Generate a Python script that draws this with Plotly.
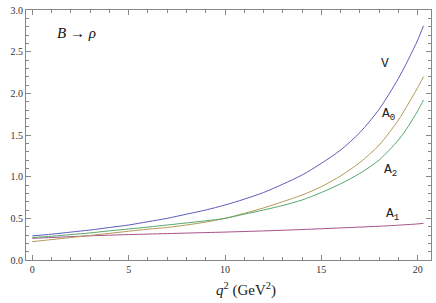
import plotly.graph_objects as go

q2 = [0, 1, 2, 3, 4, 5, 6, 7, 8, 9, 10, 11, 12, 13, 14, 15, 16, 17, 18, 19, 19.5, 20, 20.3]
V  = [0.29, 0.31, 0.335, 0.36, 0.39, 0.42, 0.46, 0.50, 0.55, 0.60, 0.66, 0.73, 0.81, 0.91, 1.02,
      1.16, 1.32, 1.53, 1.81, 2.18, 2.40, 2.64, 2.81]
A0 = [0.22, 0.245, 0.27, 0.295, 0.32, 0.345, 0.37, 0.39, 0.42, 0.455, 0.50, 0.56, 0.625, 0.70, 0.78,
      0.88, 1.01, 1.17, 1.38, 1.68, 1.87, 2.07, 2.20]
A2 = [0.27, 0.285, 0.305, 0.325, 0.35, 0.372, 0.395, 0.42, 0.445, 0.47, 0.50, 0.55, 0.60, 0.655, 0.72,
      0.81, 0.915, 1.04, 1.20, 1.44, 1.60, 1.79, 1.92]
A1 = [0.26, 0.27, 0.28, 0.29, 0.298, 0.305, 0.311, 0.317, 0.323, 0.329, 0.335, 0.342, 0.349, 0.357, 0.366,
      0.375, 0.385, 0.395, 0.405, 0.418, 0.425, 0.433, 0.44]

series = [
    ("V", V, "#5c5cbc"),
    ("A1", A1, "#a8508a"),
    ("A0", A0, "#b39a58"),
    ("A2", A2, "#55a86a"),
]

SERIF = "Liberation Serif"
MONO = "Liberation Mono"

fig = go.Figure()
for name, ys, col in series:
    fig.add_trace(go.Scatter(x=q2, y=ys, mode="lines", name=name,
                             line=dict(color=col, width=1, shape="spline", smoothing=0.8),
                             showlegend=False, hoverinfo="skip"))

labels = [
    ("V", 18.3, 2.36),
    ("A<sub>0</sub>", 18.5, 1.75),
    ("A<sub>2</sub>", 18.6, 1.07),
    ("A<sub>1</sub>", 18.7, 0.55),
]
for txt, x, y in labels:
    fig.add_annotation(x=x, y=y, text=txt, showarrow=False,
                       font=dict(family=MONO, size=13, color="#222"))

fig.add_annotation(x=2.3, y=2.72, text="<i>B</i> → <i>ρ</i>", showarrow=False,
                   font=dict(family=SERIF, size=15, color="#111"))

fig.add_annotation(xref="paper", yref="paper", x=0.543, y=-0.116, yanchor="middle",
                   text="<i>q</i><sup>2</sup> (GeV<sup>2</sup>)", showarrow=False,
                   font=dict(family=SERIF, size=15, color="#222"))

axis_common = dict(showgrid=False, zeroline=False, showline=True, linecolor="#888",
                   linewidth=1, mirror="ticks", ticks="inside", tickcolor="#888",
                   ticklen=5, tickwidth=1,
                   tickfont=dict(family=SERIF, size=10, color="#333"))

fig.update_xaxes(range=[-0.33, 20.69], tickvals=[0, 5, 10, 15, 20],
                 minor=dict(ticks="inside", dtick=1, tick0=0, ticklen=3, tickcolor="#888"),
                 **axis_common)
fig.update_yaxes(range=[0, 3], tickvals=[0, 0.5, 1, 1.5, 2, 2.5, 3], tickformat=".1f",
                 minor=dict(ticks="inside", dtick=0.1, tick0=0, ticklen=3, tickcolor="#888"),
                 **axis_common)

fig.update_layout(width=436, height=303, margin=dict(l=26, r=5, t=10, b=43),
                  plot_bgcolor="white", paper_bgcolor="white")

fig.write_html("out.html", config={"displayModeBar": False},
               post_script="document.body.style.margin='0';")
